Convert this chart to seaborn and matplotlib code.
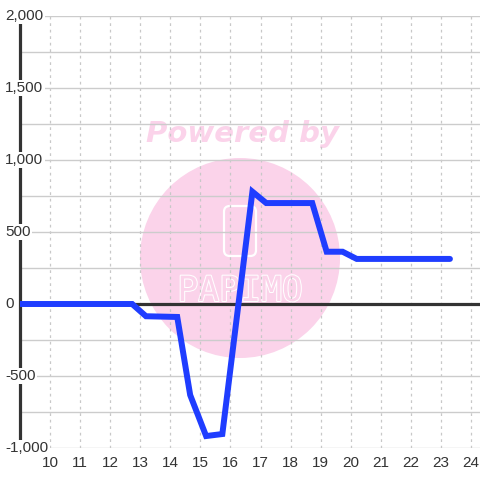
import numpy as np
import pandas as pd
import matplotlib
matplotlib.use("Agg")
import matplotlib.pyplot as plt
import matplotlib.transforms as mtransforms
import matplotlib.patheffects as pe
from matplotlib.patches import Circle, FancyBboxPatch
import seaborn as sns

# valores
hours = [9.0, 12.73, 13.19, 14.23, 14.66, 15.19, 15.73, 16.73, 17.19, 18.72, 19.2, 19.73, 20.2, 23.3]
values = [0, 0, -85, -90, -632, -917, -903, 780, 701, 701, 363, 363, 313, 313]
x_ticks = list(range(10, 25))
y_ticks = [-1000, -500, 0, 500, 1000, 1500, 2000]
y_labels = ["-1,000", "-500", "0", "500", "1,000", "1,500", "2,000"]

df = pd.DataFrame({"hour": hours, "value": values})

sns.set_style("white")
plt.rcParams["font.family"] = ["Liberation Sans", "DejaVu Sans"]

fig = plt.figure(figsize=(4.8, 4.8), dpi=100)
ax = fig.add_axes([20 / 480, 32 / 480, 460 / 480, 432 / 480])

ax.set_xlim(9.0, 24.3)
ax.set_ylim(-1000, 2000)

# grade
ax.set_axisbelow(True)
ax.set_yticks(np.arange(-1000, 2001, 250))
ax.set_yticklabels([])
ax.set_xticks(x_ticks)
ax.set_xticklabels([str(t) for t in x_ticks], fontsize=11, color="#333333")
ax.tick_params(axis="both", length=0)
ax.tick_params(axis="x", pad=6)
ax.grid(axis="y", color="#cccccc", linewidth=1.0)
ax.grid(axis="x", color="#c8c8c8", linewidth=0.9, linestyle=(0, (2.2, 3)))

for s in ["top", "right", "bottom"]:
    ax.spines[s].set_visible(False)
ax.spines["left"].set_color("#333333")
ax.spines["left"].set_linewidth(2.3)

# marca d'agua
pink = "#fbd3ea"
ax.add_patch(Circle((240 / 480, 1 - 258 / 480), 100 / 480, transform=fig.transFigure,
                    facecolor=pink, edgecolor="none", zorder=0.2))
ax.text(242 / 480, 1 - 134 / 480, "Powered by", transform=fig.transFigure,
        ha="center", va="center", fontsize=21, fontweight="bold", fontstyle="italic",
        family="DejaVu Sans", color=pink, zorder=0.3)
ax.add_patch(FancyBboxPatch((224 / 480, 1 - 256 / 480), 32 / 480, 50 / 480,
                            boxstyle="round,pad=0,rounding_size=0.012",
                            transform=fig.transFigure, facecolor="none",
                            edgecolor="white", linewidth=1.6, zorder=0.3))
t = ax.text(240 / 480, 1 - 291 / 480, "PAPIMO", transform=fig.transFigure,
            ha="center", va="center", fontsize=25, family="DejaVu Sans Mono",
            color=pink, zorder=0.3)
t.set_path_effects([pe.Stroke(linewidth=1.5, foreground="white"), pe.Normal()])

# linha zero
ax.axhline(0, color="#333333", linewidth=2.3, zorder=2)

sns.lineplot(data=df, x="hour", y="value", ax=ax, color="#1f3dff", linewidth=4.3,
             zorder=3, solid_joinstyle="miter")
ax.set_xlabel("")
ax.set_ylabel("")

# rotulos do eixo y por cima do eixo
trans = mtransforms.blended_transform_factory(fig.transFigure, ax.transData)
for v, lab in zip(y_ticks, y_labels):
    ax.text(5 / 480, v, lab, transform=trans, ha="left", va="center",
            fontsize=11, color="#333333", zorder=5, clip_on=False,
            bbox=dict(facecolor="white", edgecolor="none", pad=1.0))

fig.savefig("out.png", dpi=100)
